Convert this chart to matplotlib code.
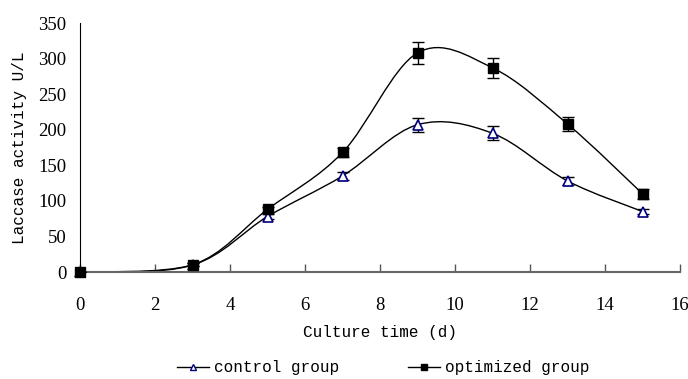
import matplotlib
matplotlib.use("Agg")
import matplotlib.pyplot as plt
from matplotlib.path import Path
from matplotlib.patches import PathPatch
import numpy as np

# data
days = [0, 3, 5, 7, 9, 11, 13, 15]
control = [0, 10, 78, 135, 207, 195, 128, 85]
control_err = [0, 2, 3, 5, 10, 10, 6, 4]
optimized = [0, 10, 88, 168, 308, 287, 208, 110]
optimized_err = [0, 2, 3, 7, 15, 14, 10, 7]

x_ticks = [0, 2, 4, 6, 8, 10, 12, 14, 16]
y_ticks = [0, 50, 100, 150, 200, 250, 300, 350]

label_font = "Liberation Mono"
tick_font = "Liberation Serif"


def smooth_path(xs, ys):
    # excel-style smoothed line, drawn as cubic bezier segments
    p = np.column_stack([xs, ys]).astype(float)
    n = len(p)
    verts = [p[0]]
    codes = [Path.MOVETO]
    for i in range(n - 1):
        p0 = p[i - 1] if i > 0 else p[i]
        p3 = p[i + 2] if i + 2 < n else p[i + 1]
        c1 = p[i] + (p[i + 1] - p0) / 6
        c2 = p[i + 1] - (p3 - p[i]) / 6
        verts += [c1, c2, p[i + 1]]
        codes += [Path.CURVE4] * 3
    return Path(verts, codes)


fig = plt.figure(figsize=(6.88, 3.79), dpi=100)
ax = fig.add_axes([0.1163, 0.2823, 0.8721, 0.6570])

for ys in (control, optimized):
    ax.add_patch(PathPatch(smooth_path(days, ys), facecolor="none",
                           edgecolor="black", lw=1.0, zorder=2, clip_on=False))

ax.errorbar(days, optimized, yerr=optimized_err, fmt="none", ecolor="black",
            elinewidth=1, capsize=4, capthick=1, zorder=3)
ax.errorbar(days, control, yerr=control_err, fmt="none", ecolor="black",
            elinewidth=1, capsize=4, capthick=1, zorder=3)

ax.plot(days, control, linestyle="none", marker="^", ms=6.5, mfc="white",
        mec="#000080", mew=1.2, zorder=4, clip_on=False)
ax.plot(days, optimized, linestyle="none", marker="s", ms=7, mfc="black",
        mec="black", zorder=5, clip_on=False)

# legend handles
h1, = ax.plot([], [], color="black", lw=1, marker="^", ms=5, mfc="white",
              mec="#000080", label="control group")
h2, = ax.plot([], [], color="black", lw=1, marker="s", ms=5, mfc="black",
              mec="black", label="optimized group")

ax.set_xlim(0, 16)
ax.set_ylim(0, 350)
ax.set_xticks(x_ticks)
ax.set_yticks(y_ticks)
ax.set_xticklabels([str(t) for t in x_ticks], fontfamily=tick_font, fontsize=13.5)
ax.set_yticklabels([str(t) for t in y_ticks], fontfamily=tick_font, fontsize=13.5)
ax.tick_params(axis="x", direction="in", length=6, width=1, color="#555555", pad=18)
ax.tick_params(axis="y", length=0, pad=10)

ax.spines["top"].set_visible(False)
ax.spines["right"].set_visible(False)
ax.spines["bottom"].set_color("#666666")
ax.spines["bottom"].set_linewidth(1.5)
ax.spines["left"].set_color("black")

ax.set_xlabel("Culture time (d)", fontfamily=label_font, fontsize=11.5, labelpad=8)
ax.set_ylabel("Laccase activity U/L", fontfamily=label_font, fontsize=11.5, labelpad=8)

fig.legend(handles=[h1, h2], loc="center", bbox_to_anchor=(0.557, 0.03), ncol=2,
           frameon=False, prop={"family": label_font, "size": 11.5},
           handlelength=2, handletextpad=0.3, columnspacing=4.3)

fig.savefig("out.png", dpi=100)
